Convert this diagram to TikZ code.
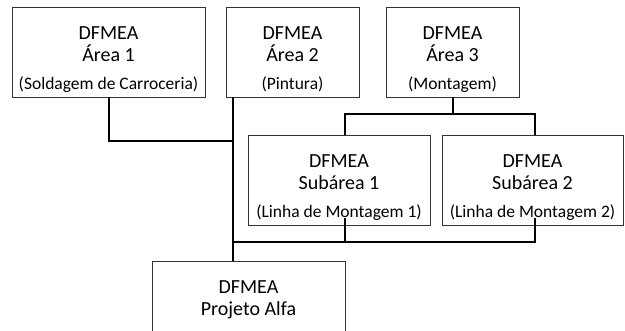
\documentclass[tikz,border=0pt]{standalone}
\usepackage{fontspec}
\setmainfont{Carlito}
\usetikzlibrary{positioning}

\newcommand{\areadetail}[1]{\\[6pt]{\fontsize{17.5}{22}\selectfont(#1)}}

\begin{document}
\begin{tikzpicture}[x=1pt,y=-1pt]
  \tikzset{areastyle/.style={draw=black!80, line width=0.9pt, minimum width=#1, minimum height=90pt, inner sep=0pt},
    labelstyle/.style={align=center, inner sep=0pt, font=\fontsize{20}{22}\selectfont},
    linkstyle/.style={line width=2pt}}
  \useasboundingbox (0,0) rectangle (625,331);
  \clip (0,0) rectangle (625,331);
  % Boxes of the DFMEA tree
  \node[areastyle=193pt] (area1) at (108.5,52) {};
  \node[areastyle=133pt] (area2) at (292.5,52) {};
  \node[areastyle=133pt] (area3) at (452.5,52) {};
  \node[areastyle=182pt] (sub1) at (339,180) {};
  \node[areastyle=181pt] (sub2) at (532.5,180) {};
  \node[areastyle=193pt] (projeto) at (248.5,306) {};
  % Texts, hung from the top of each box
  \node[labelstyle, below=20pt of area1.north] (area1text) {DFMEA\\Área 1\areadetail{Soldagem de Carroceria}};
  \node[labelstyle, below=20pt of area2.north] (area2text) {DFMEA\\Área 2\areadetail{Pintura}};
  \node[labelstyle, below=20pt of area3.north] (area3text) {DFMEA\\Área 3\areadetail{Montagem}};
  \node[labelstyle, below=20pt of sub1.north] (sub1text) {DFMEA\\Subárea 1\areadetail{Linha de Montagem 1}};
  \node[labelstyle, below=20pt of sub2.north] (sub2text) {DFMEA\\Subárea 2\areadetail{Linha de Montagem 2}};
  \node[labelstyle, below=20pt of projeto.north] (projetotext) {DFMEA\\Projeto Alfa};
  % Connectors
  \coordinate (trunk) at ([xshift=7pt]area2.south west);
  \draw[linkstyle] (trunk) -- (trunk |- projeto.north);
  \draw[linkstyle] (area1.south) |- ([yshift=-44pt]trunk);
  \draw[linkstyle] (area3.south) -- ([yshift=-17pt]area3.south);
  \coordinate (fork1) at ([xshift=6pt]sub1.north);
  \coordinate (fork2) at ([xshift=2.5pt]sub2.north);
  \draw[linkstyle] (fork1) |- ([yshift=-17pt]area3.south) -| (fork2);
  \coordinate (bus) at ([xshift=6pt,yshift=-17pt]sub1.south);
  \draw[linkstyle] ([xshift=6pt,yshift=7pt]sub1.south) -- (bus) -- (bus -| trunk);
  \draw[linkstyle] ([xshift=2.5pt,yshift=7pt]sub2.south) |- (bus);
\end{tikzpicture}
\end{document}
